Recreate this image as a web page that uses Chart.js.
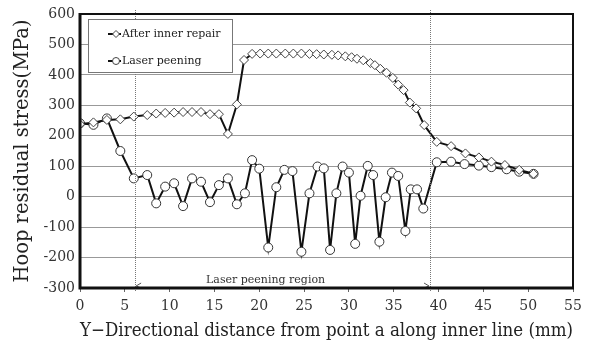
<!DOCTYPE html>
<html>
<head>
<meta charset="utf-8">
<script src="https://cdn.jsdelivr.net/npm/chart.js@4.4.1/dist/chart.umd.min.js"></script>
<style>
  html, body { margin: 0; padding: 0; background: #fff; }
  canvas { display: block; }
</style>
</head>
<body>
<canvas id="stressChart" width="589" height="344"></canvas>
<script>
// distance along inner line (mm) and hoop stress (MPa)
const repairX = [0, 1.5, 3, 4.5, 6, 7.5, 8.5, 9.5, 10.5, 11.5, 12.5, 13.5, 14.5, 15.5, 16.5, 17.5,
  18.3, 19.2, 20.1, 21.0, 21.9, 22.9, 23.8, 24.7, 25.6, 26.4, 27.2, 28.1, 28.8, 29.6, 30.3, 30.9,
  31.6, 32.4, 32.9, 33.5, 34.2, 34.9, 35.5, 36.1, 36.8, 37.5, 38.4, 39.8, 41.4, 43, 44.5, 45.9,
  47.4, 49, 50.6];
const repairY = [238, 244, 252, 254, 263, 268, 273, 275, 276, 278, 278, 278, 271, 271, 206, 303,
  449, 469, 470, 470, 470, 470, 470, 470, 469, 468, 467, 466, 464, 461, 458, 453,
  448, 439, 432, 420, 407, 390, 368, 350, 309, 290, 235, 180, 166, 142, 129, 115,
  104, 88, 75];

const peenX = [0, 1.5, 3, 4.5, 6, 7.5, 8.5, 9.5, 10.5, 11.5, 12.5, 13.5, 14.5, 15.5, 16.5, 17.5,
  18.4, 19.2, 20.0, 21.0, 21.9, 22.8, 23.7, 24.7, 25.6, 26.5, 27.2, 27.9, 28.6, 29.3, 30.0, 30.7,
  31.3, 32.1, 32.7, 33.4, 34.1, 34.8, 35.5, 36.3, 36.9, 37.6, 38.3, 39.8, 41.4, 42.9, 44.5, 45.9,
  47.6, 49, 50.6];
const peenY = [241, 236, 257, 150, 60, 71, -22, 33, 44, -31, 60, 49, -18, 38, 60, -25,
  11, 120, 92, -167, 31, 88, 84, -181, 11, 99, 93, -175, 11, 99, 79, -155,
  3, 101, 71, -148, -2, 79, 68, -113, 24, 24, -39, 113, 115, 107, 102, 97,
  90, 82, 75];

const seriesNames = ['After inner repair', 'Laser peening'];
const regionLabel = 'Laser peening region';
const regionStart = 6.15;
const regionEnd = 39.05;

const xTitle = 'Y\u2212Directional distance from point a along inner line (mm)';
const yTitle = 'Hoop residual stress(MPa)';

const serif = "'DejaVu Serif', 'Liberation Serif', serif";

function toPoints(xs, ys) {
  return xs.map((x, i) => ({ x: x, y: ys[i] }));
}

// frame, region markers and the boxed legend
const extrasPlugin = {
  id: 'extras',
  afterDatasetsDraw(chart) {
    const { ctx, chartArea: a, scales } = chart;
    const xs = scales.x;
    ctx.save();

    // dotted boundaries of the peened region
    ctx.strokeStyle = '#777';
    ctx.lineWidth = 1;
    ctx.setLineDash([1, 1]);
    [regionStart, regionEnd].forEach(v => {
      const px = Math.round(xs.getPixelForValue(v)) + 0.5;
      ctx.beginPath();
      ctx.moveTo(px, a.top - 4);
      ctx.lineTo(px, a.bottom + 4);
      ctx.stroke();
    });
    ctx.setLineDash([]);

    // arrow heads
    const x1 = xs.getPixelForValue(regionStart);
    const x2 = xs.getPixelForValue(regionEnd);
    const ay = a.bottom - 2;
    ctx.strokeStyle = '#555';
    ctx.beginPath();
    ctx.moveTo(x1 + 6, ay - 3); ctx.lineTo(x1 + 1, ay); ctx.lineTo(x1 + 6, ay + 2);
    ctx.moveTo(x2 - 6, ay - 3); ctx.lineTo(x2 - 1, ay); ctx.lineTo(x2 - 6, ay + 2);
    ctx.stroke();

    ctx.fillStyle = '#333';
    ctx.font = '11px ' + serif;
    ctx.textAlign = 'center';
    ctx.textBaseline = 'alphabetic';
    ctx.fillText(regionLabel, (x1 + x2) / 2 - 17, a.bottom - 5);

    // plot frame
    ctx.strokeStyle = '#111';
    ctx.lineWidth = 2;
    ctx.beginPath();
    ctx.moveTo(a.left, a.top); ctx.lineTo(a.right, a.top); ctx.lineTo(a.right, a.bottom);
    ctx.stroke();
    ctx.lineWidth = 3;
    ctx.beginPath();
    ctx.moveTo(a.left, a.top - 1); ctx.lineTo(a.left, a.bottom); ctx.lineTo(a.right + 1, a.bottom);
    ctx.stroke();

    // legend box
    const lx = 88, ly = 19, lw = 144, lh = 53;
    ctx.fillStyle = '#fff';
    ctx.fillRect(lx, ly, lw, lh);
    ctx.strokeStyle = '#777';
    ctx.lineWidth = 1;
    ctx.strokeRect(lx + 0.5, ly + 0.5, lw, lh);

    const rows = [34, 61];
    chart.data.datasets.forEach((ds, i) => {
      const y = rows[i];
      ctx.strokeStyle = '#111';
      ctx.lineWidth = 2;
      ctx.beginPath();
      ctx.moveTo(108, y); ctx.lineTo(121, y);
      ctx.stroke();
      ctx.lineWidth = 1;
      ctx.fillStyle = '#fff';
      ctx.strokeStyle = '#444';
      ctx.beginPath();
      if (ds.pointStyle === 'rectRot') {
        ctx.moveTo(116, y - 3.5); ctx.lineTo(119.5, y); ctx.lineTo(116, y + 3.5); ctx.lineTo(112.5, y);
        ctx.closePath();
      } else {
        ctx.arc(116, y, 3.5, 0, Math.PI * 2);
      }
      ctx.fill();
      ctx.stroke();
      ctx.fillStyle = '#222';
      ctx.font = '11px ' + serif;
      ctx.textAlign = 'left';
      ctx.textBaseline = 'middle';
      ctx.fillText(ds.label, 122, y);
    });
    ctx.restore();
  }
};

const ctx = document.getElementById('stressChart').getContext('2d');

new Chart(ctx, {
  type: 'scatter',
  data: {
    datasets: [
      {
        label: seriesNames[0],
        data: toPoints(repairX, repairY),
        showLine: true,
        borderColor: '#111',
        borderWidth: 2,
        pointStyle: 'rectRot',
        pointRadius: 4.5,
        pointBackgroundColor: '#fff',
        pointBorderColor: '#444',
        pointBorderWidth: 1,
        tension: 0
      },
      {
        label: seriesNames[1],
        data: toPoints(peenX, peenY),
        showLine: true,
        borderColor: '#111',
        borderWidth: 2,
        pointStyle: 'circle',
        pointRadius: 4.5,
        pointBackgroundColor: '#fff',
        pointBorderColor: '#333',
        pointBorderWidth: 1,
        tension: 0
      }
    ]
  },
  options: {
    responsive: false,
    animation: false,
    layout: { padding: { top: 14, right: 16, left: 0, bottom: 0 } },
    plugins: {
      legend: { display: false },
      tooltip: { enabled: false }
    },
    scales: {
      x: {
        type: 'linear',
        min: 0,
        max: 55,
        border: { display: false },
        ticks: {
          stepSize: 5,
          color: '#333',
          padding: 6,
          maxRotation: 0,
          font: { family: serif, size: 14 }
        },
        grid: { drawOnChartArea: false, drawTicks: true, tickLength: 4, color: '#666' },
        title: {
          display: true,
          text: xTitle,
          color: '#222',
          padding: { top: 0, bottom: 2 },
          font: { family: serif, size: 18.4 }
        },
        afterFit(scale) { scale.height = 56; }
      },
      y: {
        min: -300,
        max: 600,
        border: { display: false },
        ticks: {
          stepSize: 100,
          color: '#333',
          padding: 5,
          font: { family: serif, size: 14 }
        },
        grid: { color: '#999', lineWidth: 1, drawTicks: false },
        title: {
          display: true,
          text: yTitle,
          color: '#222',
          padding: { top: 11, bottom: 0 },
          font: { family: serif, size: 19.5 }
        },
        afterFit(scale) { scale.width = 80; }
      }
    }
  },
  plugins: [extrasPlugin]
});
</script>
</body>
</html>
